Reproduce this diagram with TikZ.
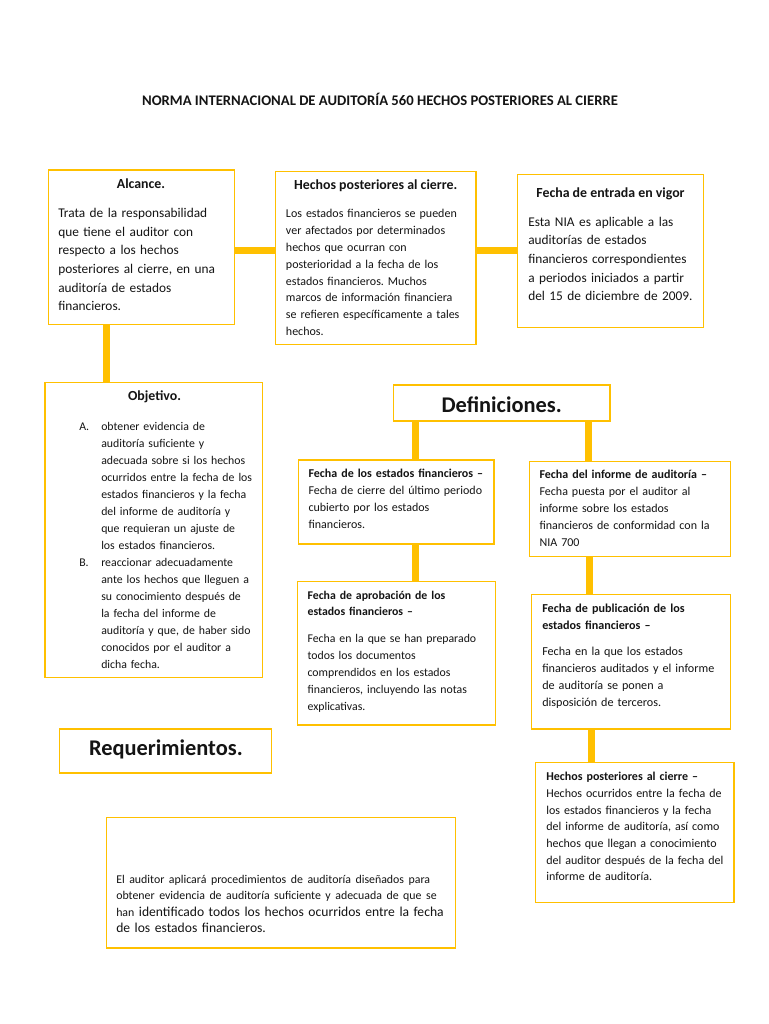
\documentclass[tikz,border=0pt]{standalone}
\usepackage{fontspec}
\setmainfont{Carlito}
\usetikzlibrary{fit,positioning}
\definecolor{gold}{RGB}{255,192,0}
\definecolor{ink}{RGB}{20,20,20}
\frenchspacing
\newcommand\bodybig{\fontsize{10}{14}\selectfont}
\newcommand\bodymid{\fontsize{9}{12.7}\selectfont}
\newcommand\bodysmall{\fontsize{9}{12.7}\selectfont}
\newcommand\itm[1]{\makebox[16.5pt][l]{#1}}
\newcommand\ind{\hspace*{16.5pt}}
\tikzset{
  frame/.style={draw=gold,line width=1.1pt,fill=white,inner sep=0pt},
  link/.style={draw=gold,line width=5.25pt},
  head/.style={anchor=base,inner sep=0pt,text=ink,font=\fontsize{10.4}{13}\selectfont\bfseries},
  big head/.style={head,font=\fontsize{#1}{#1}\selectfont\bfseries},
  big head/.default=16.8,
  txt/.style={anchor=base west,inner sep=0pt,text width=300pt,align=left,text=ink,font=#1},
  txt/.default=\bodysmall,
}
\begin{document}
\begin{tikzpicture}[x=0.75pt,y=-0.75pt]
  \useasboundingbox[fill=white] (0,0) rectangle (768,1024);
  \node[head,font=\fontsize{11}{13}\selectfont\bfseries] (title) at (380,105.7) {NORMA INTERNACIONAL DE AUDITORÍA 560 HECHOS POSTERIORES AL CIERRE};
  % frames
  \node[frame,fit={(48.7,170) (234.3,324.3)}] (alc) {};
  \node[frame,fit={(275.3,171.3) (476,344.3)}] (hpc) {};
  \node[frame,fit={(517.7,174.3) (703.3,327.7)}] (vig) {};
  \node[frame,fit={(45,382.3) (262.3,677.3)}] (obj) {};
  \node[frame,fit={(393.3,385) (610,421)}] (dfn) {};
  \node[frame,fit={(298.3,460) (494,544)}] (fef) {};
  \node[frame,fit={(529.3,461.7) (730.3,556.7)}] (inf) {};
  \node[frame,fit={(297.7,581.7) (495.3,725)}] (apr) {};
  \node[frame,fit={(531.7,594.7) (730.3,729)}] (pub) {};
  \node[frame,fit={(535.7,762.7) (734,902.7)}] (hpd) {};
  \node[frame,fit={(59.3,729) (271.3,773)}] (req) {};
  \node[frame,fit={(106.7,817.7) (455.3,948)}] (aud) {};
  % connectors
  \draw[link] (alc.east |- 0,250.3) -- (hpc.west |- 0,250.3);
  \draw[link] (hpc.east |- 0,250.3) -- (vig.west |- 0,250.3);
  \draw[link] (alc.south -| 106,0) -- (obj.north -| 106,0);
  \draw[link] (dfn.south -| 415.8,0) -- (fef.north -| 415.8,0);
  \draw[link] (dfn.south -| 588.7,0) -- (inf.north -| 588.7,0);
  \draw[link] (fef.south -| 415.8,0) -- (apr.north -| 415.8,0);
  \draw[link] (inf.south -| 589.8,0) -- (pub.north -| 589.8,0);
  \draw[link] (pub.south -| 591.8,0) -- (hpd.north -| 591.8,0);
  % texts
  \node[head] (alc-h) at (141,188.7) {Alcance.};
  \node[txt=\bodybig] (alc-t) at (58,217.5) {Trata de la responsabilidad\\ que tiene el auditor con\\ respecto a los hechos\\ posteriores al cierre, en una\\ auditoría de estados\\ financieros.};
  \node[head] (hpc-h) at (375.7,189.3) {Hechos posteriores al cierre.};
  \node[txt=\bodymid] (hpc-t) at (285.7,217.3) {Los estados financieros se pueden\\ ver afectados por determinados\\ hechos que ocurran con\\ posterioridad a la fecha de los\\ estados financieros. Muchos\\ marcos de información financiera\\ se refieren específicamente a tales\\ hechos.};
  \node[head] (vig-h) at (610.5,197.3) {Fecha de entrada en vigor};
  \node[txt=\fontsize{10}{14.06}\selectfont] (vig-t) at (528,226) {Esta NIA es aplicable a las\\ auditorías de estados\\ financieros correspondientes\\ a periodos iniciados a partir\\ del 15 de diciembre de 2009.};
  \node[head] (obj-h) at (154.5,400.7) {Objetivo.};
  \node[txt=\fontsize{8.85}{12.77}\selectfont] (obj-t) at (79,430) {\itm{A.}obtener evidencia de\\ \ind auditoría suficiente y\\ \ind adecuada sobre si los hechos\\ \ind ocurridos entre la fecha de los\\ \ind estados financieros y la fecha\\ \ind del informe de auditoría y\\ \ind que requieran un ajuste de\\ \ind los estados financieros.\\ \itm{B.}reaccionar adecuadamente\\ \ind ante los hechos que lleguen a\\ \ind su conocimiento después de\\ \ind la fecha del informe de\\ \ind auditoría y que, de haber sido\\ \ind conocidos por el auditor a\\ \ind dicha fecha.};
  \node[big head] (dfn-t) at (501.7,412.3) {Definiciones.};
  \node[txt] (fef-t) at (308.3,477.3) {\textbf{Fecha de los estados financieros –}\\ Fecha de cierre del último periodo\\ cubierto por los estados\\ financieros.};
  \node[txt] (inf-t) at (539.3,478.7) {\textbf{Fecha del informe de auditoría –}\\ Fecha puesta por el auditor al\\ informe sobre los estados\\ financieros de conformidad con la\\ NIA 700};
  \node[txt=\fontsize{8.85}{12.7}\selectfont] (apr-t) at (307.3,599) {\textbf{Fecha de aprobación de los}\\ \textbf{estados financieros –}\\[7.5pt] Fecha en la que se han preparado\\ todos los documentos\\ comprendidos en los estados\\ financieros, incluyendo las notas\\ explicativas.};
  \node[txt=\fontsize{9.1}{12.6}\selectfont] (pub-t) at (542,612.3) {\textbf{Fecha de publicación de los}\\ \textbf{estados financieros –}\\[7.5pt] Fecha en la que los estados\\ financieros auditados y el informe\\ de auditoría se ponen a\\ disposición de terceros.};
  \node[txt=\fontsize{9}{12.5}\selectfont] (hpd-t) at (546,780.7) {\textbf{Hechos posteriores al cierre –}\\ Hechos ocurridos entre la fecha de\\ los estados financieros y la fecha\\ del informe de auditoría, así como\\ hechos que llegan a conocimiento\\ del auditor después de la fecha del\\ informe de auditoría.};
  \node[big head] (req-t) at (165.9,755) {Requerimientos.};
  \node[txt=\fontsize{10.2}{12.4}\selectfont] (aud-t) at (116,883.3) {{\fontsize{8.9}{10}\selectfont El auditor aplicará procedimientos de auditoría diseñados para}\\ {\fontsize{8.9}{10}\selectfont obtener evidencia de auditoría suficiente y adecuada de que se}\\ {\fontsize{8.9}{10}\selectfont han} identificado todos los hechos ocurridos entre la fecha\\ de los estados financieros.};
\end{tikzpicture}
\end{document}
